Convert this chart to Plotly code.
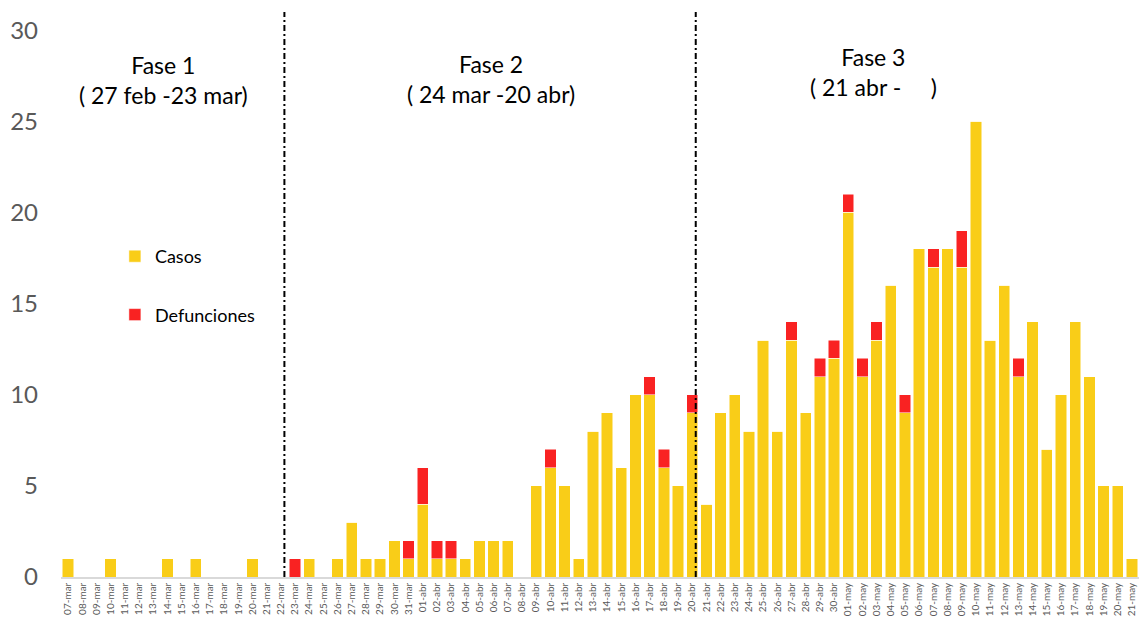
import plotly.graph_objects as go

fechas = (
    [f"{d:02d}-mar" for d in range(7, 32)]
    + [f"{d:02d}-abr" for d in range(1, 31)]
    + [f"{d:02d}-may" for d in range(1, 22)]
)

casos_mar = [1, 0, 0, 1, 0, 0, 0, 1, 0, 1, 0, 0, 0, 1, 0, 0, 0, 1, 0, 1, 3, 1, 1, 2, 1]
casos_abr = [4, 1, 1, 1, 2, 2, 2, 0, 5, 6, 5, 1, 8, 9, 6, 10, 10, 6, 5, 9,
             4, 9, 10, 8, 13, 8, 13, 9, 11, 12]
casos_may = [20, 11, 13, 16, 9, 18, 17, 18, 17, 25, 13, 16, 11, 14, 7, 10, 14, 11, 5, 5, 1]

def_mar = [0] * 16 + [1, 0, 0, 0, 0, 0, 0, 0, 1]
def_abr = [2, 1, 1, 0, 0, 0, 0, 0, 0, 1, 0, 0, 0, 0, 0, 0, 1, 1, 0, 1,
           0, 0, 0, 0, 0, 0, 1, 0, 1, 1]
def_may = [1, 1, 1, 0, 1, 0, 1, 0, 2, 0, 0, 0, 1, 0, 0, 0, 0, 0, 0, 0, 0]

casos = casos_mar + casos_abr + casos_may
defunciones = def_mar + def_abr + def_may

y_ticks = [0, 5, 10, 15, 20, 25, 30]

fase_labels = ["Fase 1<br>( 27 feb -23 mar)", "Fase 2<br>( 24 mar -20 abr)", "Fase 3<br>( 21 abr -     )"]
fase_centros = [6.7, 29.8, 56.8]
fase_y = [27.25, 27.3, 27.7]
fase_limites = ["22-mar", "20-abr"]

AMARILLO = "#F9CD18"
ROJO = "#F92222"

fig = go.Figure()
fig.add_trace(go.Bar(x=fechas, y=casos, name="Casos", marker_color=AMARILLO,
                     marker_line=dict(color="white", width=0.5), legendgroup="a"))
fig.add_trace(go.Bar(x=fechas, y=defunciones, name="Defunciones", marker_color=ROJO,
                     marker_line=dict(color="white", width=0.5), legendgroup="b"))

for f in fase_limites:
    xi = fechas.index(f) + 0.25
    fig.add_shape(type="line", xref="x", yref="y", x0=xi, x1=xi, y0=0, y1=31,
                  line=dict(color="black", width=2, dash="6px,3px,2px,3px"))

for lab, c, yy in zip(fase_labels, fase_centros, fase_y):
    fig.add_annotation(x=c, y=yy, xref="x", yref="y", text=lab,
                       showarrow=False, font=dict(size=23, color="black", family="Lato"),
                       align="center")

fig.update_layout(
    width=1139, height=620,
    margin=dict(l=61, r=0, t=12, b=43),
    barmode="stack", bargap=0.2,
    plot_bgcolor="white", paper_bgcolor="white",
    font=dict(family="Lato", color="#595959"),
    legend=dict(x=0.05, y=0.6, xanchor="left", yanchor="top",
                font=dict(size=18, color="black", family="Lato"),
                tracegroupgap=32, itemwidth=30, bgcolor="rgba(0,0,0,0)"),
    xaxis=dict(type="category", range=[-0.5, 75.5], tickangle=-90,
               tickfont=dict(size=10, color="#595959"), showgrid=False,
               showline=True, linecolor="#D9D9D9", linewidth=1.5, ticks="",
               automargin=False),
    yaxis=dict(range=[0, 31], tickvals=y_ticks, showgrid=False, zeroline=False,
               tickfont=dict(size=24, color="#595959"), ticklabelstandoff=22,
               showline=False, automargin=False),
)

fig.write_html("out.html", config={"displayModeBar": False},
               post_script="document.body.style.margin='0';document.body.style.overflow='hidden';")
